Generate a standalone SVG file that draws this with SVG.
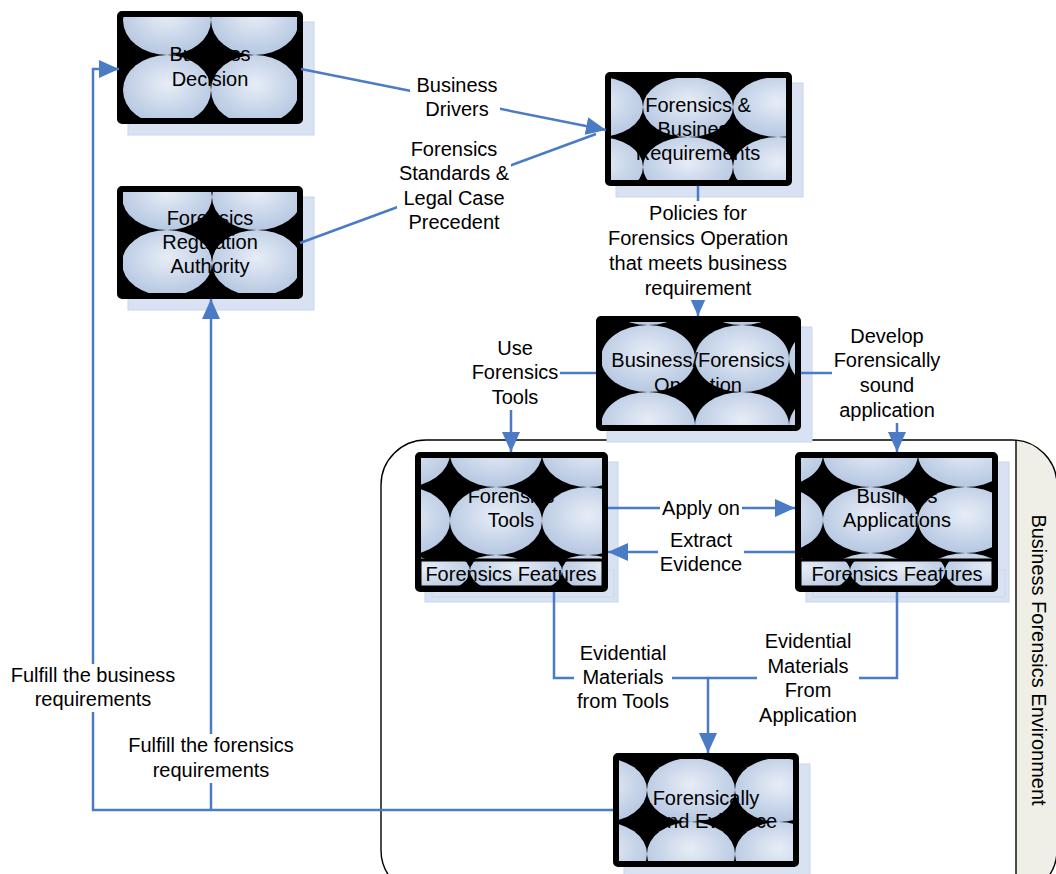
<svg xmlns="http://www.w3.org/2000/svg" width="1056" height="874" viewBox="0 0 1056 874">
  <style>
    .t { font-family: "Liberation Sans", Arial, sans-serif; font-size: 20px; text-anchor: middle; fill: #000; }
    .shadow { fill: #d9e2f2; stroke: #c9d6eb; stroke-width: 1; }
    .frame { stroke: #000; stroke-width: 6; }
    .bar { stroke: #000; stroke-width: 3; }
    .conn { fill: none; stroke: #4a7bc4; stroke-width: 2.5; }
    .bg { fill: #fff; }
  </style>
  <defs>
    <radialGradient id="glow" cx="0.5" cy="0.42" r="0.6">
      <stop offset="0" stop-color="#e7edf7"/>
      <stop offset="1" stop-color="#b4c6e0"/>
    </radialGradient>
    <marker id="arrow" viewBox="0 0 20 18" refX="20" refY="9" markerWidth="20" markerHeight="18" markerUnits="userSpaceOnUse" orient="auto">
      <path d="M0,0 L20,9 L0,18 z" fill="#4a7bc4"/>
    </marker>
    <!-- ellipse tilings, one per shape -->
    <pattern id="pBD" patternUnits="userSpaceOnUse" x="123" y="55" width="88" height="70">
      <rect width="88" height="70" fill="#000"/>
      <ellipse cx="44" cy="35" rx="44" ry="35" fill="url(#glow)"/>
    </pattern>
    <pattern id="pFRA" patternUnits="userSpaceOnUse" x="212" y="230" width="90" height="66">
      <rect width="90" height="66" fill="#000"/>
      <ellipse cx="45" cy="33" rx="45" ry="33" fill="url(#glow)"/>
    </pattern>
    <pattern id="pFBR" patternUnits="userSpaceOnUse" x="643" y="137" width="90" height="60">
      <rect width="90" height="60" fill="#000"/>
      <ellipse cx="45" cy="30" rx="45" ry="30" fill="url(#glow)"/>
    </pattern>
    <pattern id="pBFO" patternUnits="userSpaceOnUse" x="695" y="325" width="94" height="67">
      <rect width="94" height="67" fill="#000"/>
      <ellipse cx="47" cy="33.5" rx="47" ry="33.5" fill="url(#glow)"/>
    </pattern>
    <pattern id="pFT" patternUnits="userSpaceOnUse" x="450" y="487" width="92" height="68">
      <rect width="92" height="68" fill="#000"/>
      <ellipse cx="46" cy="34" rx="46" ry="34" fill="url(#glow)"/>
    </pattern>
    <pattern id="pFTb" patternUnits="userSpaceOnUse" x="470" y="548" width="92" height="46">
      <rect width="92" height="46" fill="#000"/>
      <ellipse cx="46" cy="23" rx="46" ry="23" fill="url(#glow)"/>
    </pattern>
    <pattern id="pBA" patternUnits="userSpaceOnUse" x="823" y="487" width="95" height="66">
      <rect width="95" height="66" fill="#000"/>
      <ellipse cx="47.5" cy="33" rx="47.5" ry="33" fill="url(#glow)"/>
    </pattern>
    <pattern id="pBAb" patternUnits="userSpaceOnUse" x="850" y="548" width="95" height="46">
      <rect width="95" height="46" fill="#000"/>
      <ellipse cx="47.5" cy="23" rx="47.5" ry="23" fill="url(#glow)"/>
    </pattern>
    <pattern id="pFSE" patternUnits="userSpaceOnUse" x="647" y="758" width="88" height="64">
      <rect width="88" height="64" fill="#000"/>
      <ellipse cx="44" cy="32" rx="44" ry="32" fill="url(#glow)"/>
    </pattern>
    <clipPath id="envClip">
      <rect x="381" y="440" width="676" height="455" rx="45"/>
    </clipPath>
  </defs>

  <rect width="1056" height="874" fill="#fff"/>

  <!-- environment container with side caption strip -->
  <g id="environment">
    <rect x="381" y="440" width="676" height="455" rx="45" fill="#fff"/>
    <rect x="1016" y="430" width="50" height="470" fill="#efefe8" clip-path="url(#envClip)"/>
    <rect x="381" y="440" width="676" height="455" rx="45" fill="none" stroke="#000" stroke-width="1.4"/>
    <line x1="1016" y1="440" x2="1016" y2="874" stroke="#000" stroke-width="1.4"/>
    <text class="t" transform="translate(1032,660) rotate(90)">Business Forensics Environment</text>
  </g>

  <!-- nodes -->
  <g id="business-decision">
    <rect class="shadow" x="128" y="22" width="186" height="113"/>
    <rect class="frame" x="120" y="14" width="180" height="107" rx="2" fill="url(#pBD)"/>
    <text class="t" x="210" y="61">Business</text>
    <text class="t" x="210" y="86">Decision</text>
  </g>

  <g id="forensics-regulation-authority">
    <rect class="shadow" x="128" y="197" width="186" height="113"/>
    <rect class="frame" x="120" y="189" width="180" height="107" rx="2" fill="url(#pFRA)"/>
    <text class="t" x="210" y="225">Forensics</text>
    <text class="t" x="210" y="249">Regulation</text>
    <text class="t" x="210" y="273">Authority</text>
  </g>

  <g id="forensics-business-requirements">
    <rect class="shadow" x="616" y="83" width="187" height="114"/>
    <rect class="frame" x="608" y="75" width="181" height="108" rx="2" fill="url(#pFBR)"/>
    <text class="t" x="698" y="112">Forensics &amp;</text>
    <text class="t" x="698" y="136">Business</text>
    <text class="t" x="698" y="160">Requirements</text>
  </g>

  <g id="business-forensics-operation">
    <rect class="shadow" x="607" y="327" width="205" height="115"/>
    <rect class="frame" x="599" y="319" width="199" height="109" rx="2" fill="url(#pBFO)"/>
    <text class="t" x="698" y="367">Business/Forensics</text>
    <text class="t" x="698" y="392">Operation</text>
  </g>

  <g id="forensics-tools">
    <rect class="shadow" x="425" y="462" width="193" height="140"/>
    <rect class="shadow" x="432" y="570" width="182" height="27" fill="#cfdaed"/>
    <rect class="frame" x="418" y="455" width="187" height="134" rx="2" fill="url(#pFT)"/>
    <rect class="bar" x="420" y="560" width="183" height="27" fill="url(#pFTb)"/>
    <text class="t" x="511" y="503">Forensics</text>
    <text class="t" x="511" y="527">Tools</text>
    <text class="t" x="511" y="581">Forensics Features</text>
  </g>

  <g id="business-applications">
    <rect class="shadow" x="806" y="462" width="203" height="140"/>
    <rect class="shadow" x="813" y="570" width="192" height="27" fill="#cfdaed"/>
    <rect class="frame" x="798" y="455" width="197" height="134" rx="2" fill="url(#pBA)"/>
    <rect class="bar" x="800" y="560" width="193" height="27" fill="url(#pBAb)"/>
    <text class="t" x="897" y="503">Business</text>
    <text class="t" x="897" y="527">Applications</text>
    <text class="t" x="897" y="581">Forensics Features</text>
  </g>

  <g id="forensically-sound-evidence">
    <rect class="shadow" x="624" y="764" width="186" height="114"/>
    <rect class="frame" x="616" y="756" width="180" height="108" rx="2" fill="url(#pFSE)"/>
    <text class="t" x="706" y="805">Forensically</text>
    <text class="t" x="706" y="828">sound Evidence</text>
  </g>

  <!-- connectors -->
  <g id="connectors">
    <path class="conn" d="M301,69 L606,130" marker-end="url(#arrow)"/>
    <path class="conn" d="M300,243 L596,134"/>
    <path class="conn" d="M698,186 L698,316" marker-end="url(#arrow)"/>
    <path class="conn" d="M596,373 L511,373 L511,452" marker-end="url(#arrow)"/>
    <path class="conn" d="M801,373 L897,373 L897,452" marker-end="url(#arrow)"/>
    <path class="conn" d="M608,508 L795,508" marker-end="url(#arrow)"/>
    <path class="conn" d="M795,552 L608,552" marker-end="url(#arrow)"/>
    <path class="conn" d="M554,592 L554,678 L708,678 L708,753" marker-end="url(#arrow)"/>
    <path class="conn" d="M897,592 L897,678 L708,678"/>
    <path class="conn" d="M613,810 L93,810 L93,69 L119,69" marker-end="url(#arrow)"/>
    <path class="conn" d="M211,810 L211,299" marker-end="url(#arrow)"/>
  </g>

  <!-- connector labels -->
  <g id="labels">
    <rect class="bg" x="410" y="74" width="90" height="48"/>
    <text class="t" x="457" y="92">Business</text>
    <text class="t" x="457" y="116">Drivers</text>

    <rect class="bg" x="397" y="139" width="114" height="96"/>
    <text class="t" x="454" y="156">Forensics</text>
    <text class="t" x="454" y="180">Standards &amp;</text>
    <text class="t" x="454" y="205">Legal Case</text>
    <text class="t" x="454" y="229">Precedent</text>

    <rect class="bg" x="606" y="201" width="184" height="99"/>
    <text class="t" x="698" y="220">Policies for</text>
    <text class="t" x="698" y="245">Forensics Operation</text>
    <text class="t" x="698" y="270">that meets business</text>
    <text class="t" x="698" y="295">requirement</text>

    <rect class="bg" x="470" y="337" width="90" height="73"/>
    <text class="t" x="515" y="355">Use</text>
    <text class="t" x="515" y="379">Forensics</text>
    <text class="t" x="515" y="404">Tools</text>

    <rect class="bg" x="832" y="325" width="110" height="98"/>
    <text class="t" x="887" y="343">Develop</text>
    <text class="t" x="887" y="367">Forensically</text>
    <text class="t" x="887" y="392">sound</text>
    <text class="t" x="887" y="417">application</text>

    <rect class="bg" x="660" y="497" width="82" height="24"/>
    <text class="t" x="701" y="515">Apply on</text>

    <rect class="bg" x="658" y="529" width="86" height="48"/>
    <text class="t" x="701" y="547">Extract</text>
    <text class="t" x="701" y="571">Evidence</text>

    <rect class="bg" x="574" y="642" width="98" height="72"/>
    <text class="t" x="623" y="660">Evidential</text>
    <text class="t" x="623" y="684">Materials</text>
    <text class="t" x="623" y="708">from Tools</text>

    <rect class="bg" x="757" y="630" width="102" height="98"/>
    <text class="t" x="808" y="648">Evidential</text>
    <text class="t" x="808" y="673">Materials</text>
    <text class="t" x="808" y="697">From</text>
    <text class="t" x="808" y="722">Application</text>

    <rect class="bg" x="8" y="664" width="170" height="48"/>
    <text class="t" x="93" y="682">Fulfill the business</text>
    <text class="t" x="93" y="706">requirements</text>

    <rect class="bg" x="126" y="734" width="170" height="49"/>
    <text class="t" x="211" y="752">Fulfill the forensics</text>
    <text class="t" x="211" y="777">requirements</text>
  </g>
</svg>
